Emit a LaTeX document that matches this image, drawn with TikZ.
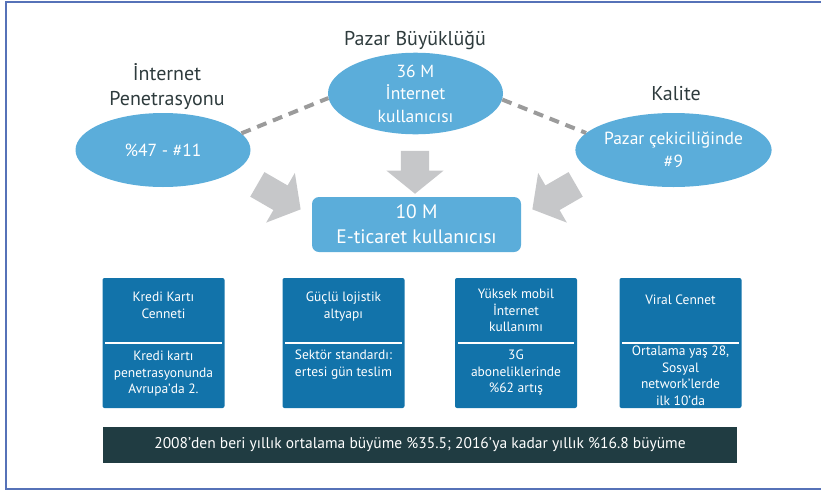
\documentclass[tikz,border=0pt]{standalone}
\usepackage{fontspec}
\setmainfont{PT Sans}
\usetikzlibrary{shapes.geometric,shapes.arrows,positioning}

\definecolor{ovalblue}{HTML}{5BADDA}
\definecolor{boxblue}{HTML}{1273AA}
\definecolor{bardark}{HTML}{203C42}
\definecolor{arrowgray}{HTML}{C6C7C9}
\definecolor{dashgray}{HTML}{9B9B9B}
\definecolor{frameblue}{HTML}{5672B8}
\definecolor{headtext}{HTML}{2E3B3D}

\tikzset{
    oval/.style={ellipse, fill=ovalblue, text=white, minimum width=175pt, minimum height=74pt,
        inner sep=0pt, align=center, font=\fontsize{17.5}{22.5}\selectfont},
    heading/.style={text=headtext, align=center, font=\fontsize{20}{25}\selectfont},
    ecombox/.style={rectangle, rounded corners=7pt, fill=ovalblue, text=white, align=center,
        minimum width=209pt, minimum height=55pt, inner sep=0pt, font=\fontsize{19.5}{25}\selectfont},
    infobox/.style={rectangle, rounded corners=2pt, fill=boxblue, minimum width=122pt, minimum height=130pt},
    boxtext/.style={text=white, align=center, inner sep=0pt, font=\fontsize{13.5}{16.5}\selectfont},
    fatarrow/.style={single arrow, fill=arrowgray, inner xsep=0pt, inner ysep=14pt, minimum width=0pt,
        minimum height=#1, single arrow head extend=14.5pt, single arrow tip angle=102},
    dashlink/.style={dashgray, line width=4pt, dash pattern=on 10pt off 7pt},
    growthbar/.style={rectangle, fill=bardark, text=white, minimum width=634pt, minimum height=36pt,
        font=\fontsize{15.5}{17}\selectfont}
}

\begin{document}
\begin{tikzpicture}[x=1pt, y=-1pt]
    \useasboundingbox (0,0) rectangle (821,493);
    % frame
    \draw[frameblue, line width=2pt] (821,2) -- (6,2) -- (6,489) -- (821,489);

    % three drivers
    \node[oval] (pen) at (163,150) {\%47 - \#11};
    \node[oval] (market) at (415.5,93.5) {36 M\\İnternet\\kullanıcısı};
    \node[oval] (quality) at (673.5,150) {Pazar çekiciliğinde\\\#9};
    \node[heading] (pentitle) at (167,87) {İnternet\\Penetrasyonu};
    \node[heading] (markettitle) at (415,40) {Pazar Büyüklüğü};
    \node[heading] (qualitytitle) at (676,94) {Kalite};

    \draw[dashlink] (pen.12) -- (market.183);
    \draw[dashlink] (market.-4) -- (quality.169);

    % result
    \node[ecombox] (ecom) at (416.5,224.5) {10 M\\E-ticaret kullanıcısı};

    \node[fatarrow=43pt, rotate=-90] (downarrow) at (415,166.5) {};
    \node[fatarrow=50pt, rotate=-30] (leftarrow) at (274,194) {};
    \node[fatarrow=50pt, rotate=-150] (rightarrow) at (559,194) {};

    % four boxes
    \node[infobox] (kredi) at (163.5,343) {};
    \node[infobox] (lojistik) at (343.5,343) {};
    \node[infobox] (mobil) at (516,343) {};
    \node[infobox] (viral) at (680.5,343) {};
    \foreach \b in {kredi,lojistik,mobil,viral}
        \draw[white, line width=1.2pt] ([xshift=3pt]\b.west) -- ([xshift=-3pt]\b.east);

    \node[boxtext, anchor=north, below=14pt of kredi.north] (kreditop) {Kredi Kartı\\Cenneti};
    \node[boxtext, anchor=north, below=8pt of kredi.center] (kredibot) {Kredi kartı\\penetrasyonunda\\Avrupa’da 2.};
    \node[boxtext, anchor=north, below=14pt of lojistik.north] (lojistiktop) {Güçlü lojistik\\altyapı};
    \node[boxtext, anchor=north, below=7pt of lojistik.center] (lojistikbot) {Sektör standardı:\\ertesi gün teslim};
    \node[boxtext, anchor=north, below=11pt of mobil.north] (mobiltop) {Yüksek mobil\\İnternet\\kullanımı};
    \node[boxtext, anchor=north, below=7pt of mobil.center] (mobilbot) {3G\\aboneliklerinde\\\%62 artış};
    \node[boxtext, anchor=north, below=17pt of viral.north] (viraltop) {Viral Cennet};
    \node[boxtext, anchor=north, below=3pt of viral.center] (viralbot) {Ortalama yaş 28,\\Sosyal\\network’lerde\\ilk 10’da};

    % growth bar
    \node[growthbar] (growth) at (420,445) {2008’den beri yıllık ortalama büyüme \%35.5; 2016’ya kadar yıllık \%16.8 büyüme};
\end{tikzpicture}
\end{document}
